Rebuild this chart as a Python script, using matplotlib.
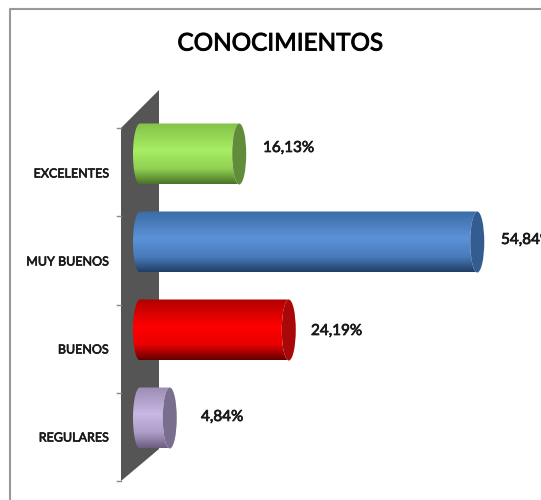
import numpy as np
import matplotlib
matplotlib.use("Agg")
import matplotlib.pyplot as plt
import matplotlib.patheffects as pe
from matplotlib.colors import LinearSegmentedColormap
from matplotlib.patches import Ellipse, Polygon, PathPatch
from matplotlib.path import Path

categories = ["EXCELENTES", "MUY BUENOS", "BUENOS", "REGULARES"]
values = [16.13, 54.84, 24.19, 4.84]
value_labels = ["16,13%", "54,84%", "24,19%", "4,84%"]
title = "CONOCIMIENTOS"
gradients = [
    ["#84c24a", "#a8ee62", "#8fd052", "#4a7427"],
    ["#3a6aa2", "#5c92da", "#4a7cbc", "#213f66"],
    ["#b00000", "#ff0000", "#e80000", "#640000"],
    ["#9a8bb2", "#c8b8e4", "#ad9ec8", "#6b5e80"],
]
cap_colors = ["#618c39", "#335d90", "#a80808", "#7a6e8e"]
label_left_px = [263, 501, 311, 201]
label_y_px = [148, 240, 331, 417]

W, H = 541, 500
X0, PXV = 140.0, 6.15
Y0, PXC = 154.0, 88.0
HW, HH = 7.0 / PXV, 30.5 / PXC
FONT = ["Lato", "DejaVu Sans"]

fig = plt.figure(figsize=(W / 100, H / 100), dpi=100, facecolor="white")
ax = fig.add_axes([0, 0, 1, 1])
ax.set_xlim(-X0 / PXV, (W - X0) / PXV)
ax.set_ylim((H - Y0) / PXC, -Y0 / PXC)
ax.axis("off")


def px(x, y):
    return ((x - X0) / PXV, (y - Y0) / PXC)


def heavy(width):
    return [pe.withStroke(linewidth=width, foreground="#111111")]


ax.plot(*zip(px(10, H), px(10, 9), px(W, 9)), color="#999999", lw=1.5, zorder=0, clip_on=False)

ax.add_patch(Polygon([px(121, 128), px(159, 90), px(159, 449), px(121, 481)],
                     closed=True, fc="#555555", ec="none", zorder=1))
for ty in (128, 216.5, 305, 393, 481):
    ax.plot(*zip(px(117, ty), px(121, ty)), color="#888888", lw=1, zorder=1)

t = np.linspace(np.pi / 2, 3 * np.pi / 2, 40)
for i, (v, cols, cap) in enumerate(zip(values, gradients, cap_colors)):
    left = np.column_stack([HW * np.cos(t), i + HH * np.sin(t)])
    right = np.column_stack([v + HW * np.cos(t[::-1]), i + HH * np.sin(t[::-1])])
    verts = np.vstack([left, right, left[:1]])
    clip = PathPatch(Path(verts), fc="none", ec="none", transform=ax.transData)
    ax.add_patch(clip)
    cmap = LinearSegmentedColormap.from_list("g", list(zip([0, .45, .75, 1], cols)))
    im = ax.imshow(np.linspace(0, 1, 128)[:, None], cmap=cmap, aspect="auto",
                   extent=(-HW, v + HW, i + HH, i - HH), zorder=2, interpolation="bilinear")
    im.set_clip_path(clip)
    ax.add_patch(Ellipse((v, i), 2 * HW, 2 * HH, fc=cap, ec="none", zorder=3))

    ax.text(*px(label_left_px[i], label_y_px[i]), value_labels[i], ha="left", va="center",
            fontsize=11, family=FONT, color="#1a1a1a", zorder=4, path_effects=heavy(0.5))
    ax.text(*px(108.5, Y0 + PXC * i + 19.5), categories[i], ha="right", va="center",
            fontsize=9, family=FONT, color="#1a1a1a", zorder=4, path_effects=heavy(0.45))

ax.text(*px(280, 44), title, ha="center", va="center", fontsize=17.5, family=FONT,
        color="#000000", path_effects=heavy(0.7))

ax.set_xlim(-X0 / PXV, (W - X0) / PXV)
ax.set_ylim((H - Y0) / PXC, -Y0 / PXC)
fig.savefig("out.png", dpi=100, facecolor="white")
